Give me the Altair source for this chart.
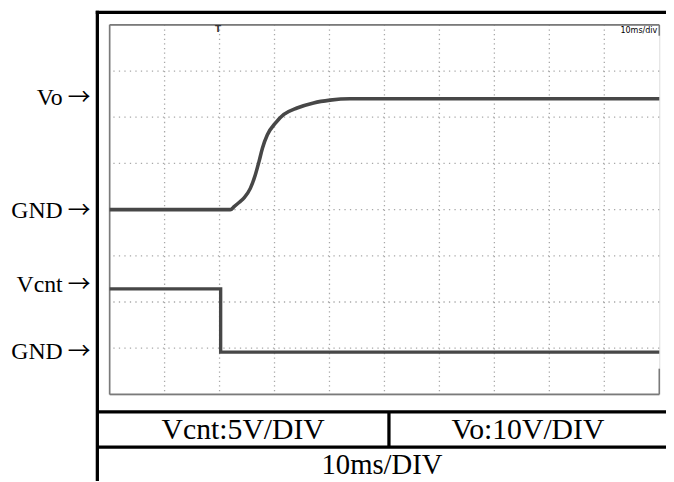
import altair as alt
import pandas as pd

# ---- data ----
vo_time_ms = [0, 21.96, 22.7, 23.6, 24.5, 25.6, 26.5, 27.2, 27.8, 28.7, 30.2, 31.7, 34.1, 37.1, 40.1, 43.7, 100]
vo_volts = [0, 0, 0.7, 1.6, 2.6, 4.6, 7.5, 10.5, 13.3, 16.2, 18.8, 20.6, 22.0, 23.1, 23.7, 24.0, 24.0]
vcnt_time_ms = [0, 20.2, 20.2, 100]
vcnt_volts = [6.85, 6.85, 0, 0]

vo_scale_v_per_div = 10
vcnt_scale_v_per_div = 5
vo_gnd_div = 0.0
vcnt_gnd_div = -3.085

grid_x_ms = [10, 20, 30, 40, 50, 60, 70, 80, 90]
grid_y_div = [-3, -2, -1, 0, 1, 2, 3]

side_labels = ["Vo", "GND", "Vcnt", "GND"]
side_label_div = [2.41, -0.03, -1.64, -3.08]

# ---- tables ----
vo_df = pd.DataFrame({"t": vo_time_ms, "div": [vo_gnd_div + v / vo_scale_v_per_div for v in vo_volts],
                      "i": range(len(vo_time_ms))})
vc_df = pd.DataFrame({"t": vcnt_time_ms, "div": [vcnt_gnd_div + v / vcnt_scale_v_per_div for v in vcnt_volts],
                      "i": range(len(vcnt_time_ms))})
gx_df = pd.DataFrame({"t": grid_x_ms})
gy_df = pd.DataFrame({"div": grid_y_div})
lab_df = pd.DataFrame({"label": side_labels, "div": side_label_div})
one = pd.DataFrame({"a": [0]})

W, H = 555.5, 373.5
xs = alt.Scale(domain=[0, 100], nice=False, zero=False)
ys = alt.Scale(domain=[-4, 4], nice=False, zero=False)

grid_col = "#a8a8a8"
vgrid = alt.Chart(gx_df).mark_rule(color=grid_col, strokeWidth=1.3, strokeDash=[1.3, 3.37]).encode(
    x=alt.X("t:Q", scale=xs, axis=None))
hgrid = alt.Chart(gy_df).mark_rule(color=grid_col, strokeWidth=1.3, strokeDash=[1.3, 4.26]).encode(
    y=alt.Y("div:Q", scale=ys, axis=None))

border_col = "#7a7a7a"
bw = 1.6
b_top = alt.Chart(one).mark_rule(color=border_col, strokeWidth=bw).encode(
    x=alt.value(0), x2=alt.value(W), y=alt.value(0))
b_bot = alt.Chart(one).mark_rule(color=border_col, strokeWidth=bw).encode(
    x=alt.value(0), x2=alt.value(W), y=alt.value(H))
b_left = alt.Chart(one).mark_rule(color=border_col, strokeWidth=bw).encode(
    x=alt.value(0), y=alt.value(0), y2=alt.value(H))
b_r1 = alt.Chart(one).mark_rule(color=border_col, strokeWidth=bw).encode(
    x=alt.value(W), y=alt.value(0), y2=alt.value(11))
b_r2 = alt.Chart(one).mark_rule(color=border_col, strokeWidth=bw).encode(
    x=alt.value(W), y=alt.value(H - 26), y2=alt.value(H))

trace_col = "#474747"
vo_line = alt.Chart(vo_df).mark_line(color=trace_col, strokeWidth=3.6, interpolate="monotone").encode(
    x=alt.X("t:Q", scale=xs, axis=None), y=alt.Y("div:Q", scale=ys, axis=None), order="i:Q")
vc_line = alt.Chart(vc_df).mark_line(color=trace_col, strokeWidth=3.4).encode(
    x=alt.X("t:Q", scale=xs, axis=None), y=alt.Y("div:Q", scale=ys, axis=None), order="i:Q")

labels = alt.Chart(lab_df).mark_text(font="Liberation Serif", fontSize=24, align="right",
                                     baseline="middle", color="black").encode(
    x=alt.value(-47.4), y=alt.Y("div:Q", scale=ys, axis=None), text="label:N")
arrows = alt.Chart(lab_df).mark_text(font="Noto Sans CJK JP", fontSize=23, align="center",
                                     baseline="middle", color="black").encode(
    x=alt.value(-30.7), y=alt.Y("div:Q", scale=ys, axis=None), text=alt.value("→"))

frame_col = "black"
fw = 3.3
frame_left = alt.Chart(one).mark_rule(color=frame_col, strokeWidth=fw).encode(
    x=alt.value(-12.4), y=alt.value(-14.3), y2=alt.value(470))
frame_top = alt.Chart(one).mark_rule(color=frame_col, strokeWidth=fw).encode(
    x=alt.value(-14), x2=alt.value(570), y=alt.value(-12.5))
table_1 = alt.Chart(one).mark_rule(color=frame_col, strokeWidth=fw).encode(
    x=alt.value(-12.4), x2=alt.value(570), y=alt.value(391.2))
table_2 = alt.Chart(one).mark_rule(color=frame_col, strokeWidth=fw).encode(
    x=alt.value(-12.4), x2=alt.value(570), y=alt.value(426.8))
divider = alt.Chart(one).mark_rule(color=frame_col, strokeWidth=fw).encode(
    x=alt.value(282.3), y=alt.value(391.2), y2=alt.value(426.8))

def cell_text(txt, x, y, size=30):
    return alt.Chart(one).mark_text(font="Liberation Serif", fontSize=size, align="center",
                                    baseline="middle", color="black").encode(
        x=alt.value(x), y=alt.value(y), text=alt.value(txt))

t1 = cell_text("Vcnt:5V/DIV", 135, 410)
t2 = cell_text("Vo:10V/DIV", 422.8, 410)
t3 = cell_text("10ms/DIV", 275.3, 445, size=29)

tdiv = alt.Chart(one).mark_text(font="DejaVu Sans Condensed, Liberation Sans Narrow, DejaVu Sans",
                                fontSize=9, align="right", baseline="middle", color="black").encode(
    x=alt.value(553.5), y=alt.value(5), text=alt.value("10ms/div"))
trig = alt.Chart(one).mark_text(font="DejaVu Sans", fontSize=9, fontWeight="bold", align="center",
                                baseline="middle", color="#333333").encode(
    x=alt.value(109.5), y=alt.value(4), text=alt.value("T"))

chart = alt.layer(vgrid, hgrid, b_top, b_bot, b_left, b_r1, b_r2, vo_line, vc_line, labels, arrows,
                  frame_left, frame_top, table_1, table_2,
                  divider, t1, t2, t3, tdiv, trig).properties(
    width=W, height=H,
    autosize=alt.AutoSizeParams(type="none"),
    padding={"left": 102.7, "top": 14.5, "right": 6.8, "bottom": 85},
).configure_view(stroke=None).configure(background="white")

chart.save("out.html", embed_options={"renderer": "svg", "actions": False})
